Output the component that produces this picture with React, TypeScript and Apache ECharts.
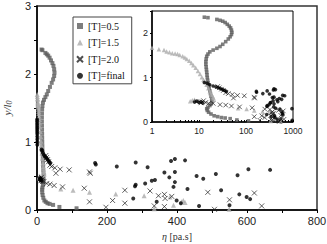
import React, { useEffect, useRef } from "react";
import * as echarts from "echarts";

// ---- data (eta [pa.s], y/l0) ----
const NAMES = ["[T]=0.5", "[T]=1.5", "[T]=2.0", "[T]=final"];

const T05: [number, number][] = [
  [13, 2.36], [15.5, 2.35], [24, 2.31], [28, 2.29], [32, 2.27], [36, 2.24], [40, 2.2], [44, 2.16],
  [47, 2.12], [49, 2.07], [50, 2.02], [49, 1.97], [46, 1.92], [42, 1.87], [37, 1.81], [32, 1.75],
  [28, 1.7], [24, 1.66], [20, 1.62], [17, 1.58], [15.5, 1.53], [14.6, 1.48], [14.2, 1.42], [14, 1.36],
  [14, 1.3], [14.2, 1.24], [14.4, 1.18], [14.6, 1.12], [14.8, 1.06], [15, 1.0], [15.3, 0.94], [15.6, 0.88],
  [16, 0.82], [16.5, 0.76], [17, 0.7], [17.5, 0.64], [18, 0.58], [18.6, 0.52], [18.8, 0.46], [18.2, 0.41],
  [17, 0.37], [15.5, 0.33], [14.6, 0.3], [15, 0.26], [16, 0.22], [18, 0.18], [21, 0.14], [25, 0.12],
  [30, 0.1], [36, 0.09], [46, 0.075], [64, 0.045], [113, 0.025],
];

const T15: [number, number][] = [
  [0.6, 1.7], [1.0, 1.67], [1.4, 1.64], [1.8, 1.62], [2.05, 1.59], [2.35, 1.57], [2.7, 1.55], [3.1, 1.54],
  [3.5, 1.53], [3.9, 1.51], [4.5, 1.48], [5.0, 1.45], [5.5, 1.42], [6.2, 1.38], [6.9, 1.33], [7.6, 1.28],
  [8.5, 1.22], [9.5, 1.15], [10.5, 1.08], [11.5, 1.01], [12.5, 0.95], [13.4, 0.9], [14.5, 0.84], [15.8, 0.76],
  [17, 0.69], [18, 0.64], [19, 0.6], [20, 0.56], [20.5, 0.53],
  [6.5, 0.47], [7.2, 0.49], [8, 0.5],
  [68, 0.31], [103, 0.29], [150, 0.26], [225, 0.235], [306, 0.21], [335, 0.02], [380, 0.19], [390, 0.07],
  [413, 0.12], [418, 0.14], [423, 0.11], [549, 0.01],
];

const T20: [number, number][] = [
  [9, 0.46], [11, 0.43], [12.5, 0.48], [14, 0.44], [16, 0.42], [20, 0.42], [28, 0.39], [37, 0.38],
  [49, 0.36], [73, 0.34], [135, 0.32],
  [25, 0.8], [27, 0.77], [30, 0.74], [33, 0.71], [37, 0.66], [42, 0.64], [51, 0.62], [54, 0.54],
  [66, 0.6], [92, 0.59], [150, 0.56], [152, 0.54],
  [150, 0.12], [197, 0.04], [216, 0.14], [251, 0.29], [251, 0.1], [323, 0.28], [335, 0.06], [347, 0.21],
  [364, 0.23], [366, 0.17], [364, 0.05], [385, 0.2], [488, 0.26], [507, 0.01], [550, 0.15], [621, 0.25],
  [642, 0.06],
];

const TFINAL: [number, number][] = [
  [0.3, 1.33], [0.35, 1.3], [0.4, 1.27], [0.45, 1.24], [0.5, 1.21], [0.55, 1.18], [0.6, 1.15], [0.7, 1.12],
  [0.8, 1.08], [0.9, 1.04], [0.95, 1.0], [0.98, 0.96], [13, 0.89], [15, 0.87], [17, 0.84], [20, 0.81],
  [23, 0.79], [26, 0.77], [29, 0.75], [32, 0.73], [35, 0.71], [38, 0.69],
  [8, 0.45], [9, 0.47], [10, 0.44], [11, 0.46], [12, 0.43],
  [166, 0.69], [168, 0.67], [228, 0.64], [282, 0.7], [316, 0.63], [383, 0.72], [394, 0.75], [423, 0.73],
  [364, 0.55], [394, 0.56], [378, 0.48], [394, 0.41], [390, 0.34], [430, 0.31], [328, 0.43], [337, 0.44],
  [309, 0.39], [282, 0.37], [280, 0.35], [275, 0.17], [342, 0.12], [399, 0.14], [411, 0.1], [456, 0.5],
  [475, 0.46], [511, 0.53], [526, 0.29], [578, 0.23], [573, 0.51], [604, 0.6], [599, 0.19], [609, 0.16],
  [666, 0.59], [463, 0.06], [550, 0.07], [950, 0.3], [960, 0.04],
];

const MAIN_X_TICKS = [0, 200, 400, 600, 800];
const MAIN_Y_TICKS = [0, 1, 2, 3];
const INSET_X_TICKS = [1, 10, 100, 1000];
const INSET_Y_TICKS = [0, 1, 2];
const INSET_X_MINOR = [1, 2, 3, 4, 5, 6, 7, 8, 9, 10, 20, 30, 40, 50, 60, 70, 80, 90, 100, 200, 300, 400, 500, 600, 700, 800, 900, 1000];

const CROSS = "path://M0,0L10,10M10,0L0,10";

const SANS = "Liberation Sans";
const SERIF = "Liberation Serif";

function styleFor(i: number, inset: boolean) {
  const k = inset ? 0.9 : 1;
  if (i === 0) return { symbol: "rect", symbolSize: 4 * k, itemStyle: { color: "#5e5e5e" } };
  if (i === 1) return { symbol: "triangle", symbolSize: 5 * k, itemStyle: { color: "#ababab" } };
  if (i === 2)
    return {
      symbol: CROSS,
      symbolSize: 5 * k,
      itemStyle: { color: "rgba(0,0,0,0)", borderColor: "#222", borderWidth: 0.9 },
    };
  return { symbol: "circle", symbolSize: 4 * k, itemStyle: { color: "#000" } };
}

const DATA = [T05, T15, T20, TFINAL];

export default function App() {
  const ref = useRef<HTMLDivElement>(null);
  useEffect(() => {
    if (!ref.current) return;
    const chart = echarts.init(ref.current, null, { renderer: "svg" });
    const series: any[] = [];
    DATA.forEach((d, i) => {
      series.push({ type: "scatter", name: NAMES[i], xAxisIndex: 0, yAxisIndex: 0, data: d, clip: true, ...styleFor(i, false) });
    });
    DATA.forEach((d, i) => {
      series.push({ type: "scatter", name: NAMES[i], xAxisIndex: 1, yAxisIndex: 1, data: d, clip: true, z: 4, ...styleFor(i, true) });
    });
    const axisLine = { show: true, onZero: false, lineStyle: { color: "#000", width: 1.5 } };
    chart.setOption({
      animation: false,
      backgroundColor: "#fff",
      grid: [
        { left: 37, top: 6, width: 280, height: 204, show: true, borderColor: "#333", borderWidth: 1.5, backgroundColor: "transparent", containLabel: false, outerBoundsMode: "none" },
        { left: 152, top: 11, width: 141, height: 111, show: true, borderColor: "#000", borderWidth: 1, backgroundColor: "#fff", containLabel: false, outerBoundsMode: "none" },
      ],
      legend: {
        orient: "vertical",
        left: 73,
        top: 17,
        padding: [4, 7, 3, 3],
        itemGap: 6.6,
        itemWidth: 6,
        itemHeight: 6,
        borderColor: "#444",
        borderWidth: 1,
        backgroundColor: "#fff",
        textStyle: { fontFamily: SERIF, fontSize: 10, color: "#111" },
        data: [
          { name: NAMES[0], icon: "rect" },
          { name: NAMES[1], icon: "triangle" },
          { name: NAMES[2], icon: CROSS },
          { name: NAMES[3], icon: "circle" },
        ],
      },
      xAxis: [
        {
          type: "value",
          gridIndex: 0,
          min: 0,
          max: 800,
          interval: 100,
          axisLine,
          axisTick: { show: true, length: 3, lineStyle: { color: "#000" } },
          axisLabel: {
            formatter: (v: number) => (MAIN_X_TICKS.includes(v) ? String(v) : ""),
            fontFamily: SANS,
            fontSize: 11,
            color: "#222",
            margin: 5,
          },
          splitLine: { show: false },
          name: "{e|η} [pa.s]",
          nameLocation: "middle",
          nameGap: 21,
          nameTextStyle: {
            fontFamily: SERIF,
            fontSize: 10,
            color: "#333",
            rich: { e: { fontFamily: SERIF, fontStyle: "italic", fontSize: 10, color: "#333" } },
          },
        },
        {
          type: "log",
          logBase: 10,
          gridIndex: 1,
          min: 1,
          max: 1000,
          axisLine,
          axisTick: { show: true, inside: true, length: 2, customValues: INSET_X_MINOR, lineStyle: { color: "#000" } },
          axisLabel: {
            formatter: (v: number) => (INSET_X_TICKS.includes(Math.round(v)) ? String(Math.round(v)) : ""),
            fontFamily: SANS,
            fontSize: 8.5,
            color: "#222",
            margin: 4,
          },
          splitLine: { show: false },
          minorSplitLine: { show: false },
        },
      ],
      yAxis: [
        {
          type: "value",
          gridIndex: 0,
          min: 0,
          max: 3,
          interval: 0.5,
          axisLine,
          axisTick: { show: true, length: 3, lineStyle: { color: "#000" } },
          axisLabel: {
            formatter: (v: number) => (MAIN_Y_TICKS.includes(v) ? String(v) : ""),
            fontFamily: SANS,
            fontSize: 11,
            color: "#222",
            margin: 6,
          },
          splitLine: { show: false },
          name: "{i|y/l}{s|0}",
          nameLocation: "middle",
          nameRotate: 90,
          nameGap: 19,
          nameTextStyle: {
            rich: {
              i: { fontFamily: SERIF, fontStyle: "italic", fontSize: 11, color: "#444" },
              s: { fontFamily: SERIF, fontStyle: "italic", fontSize: 8, color: "#444", verticalAlign: "bottom", padding: [5, 0, 0, 0] },
            },
          },
        },
        {
          type: "value",
          gridIndex: 1,
          min: 0,
          max: 2.5,
          interval: 0.5,
          axisLine,
          axisTick: { show: true, length: 2, lineStyle: { color: "#000" } },
          axisLabel: {
            formatter: (v: number) => (INSET_Y_TICKS.includes(v) ? String(v) : ""),
            fontFamily: SANS,
            fontSize: 9,
            color: "#222",
            margin: 4,
          },
          splitLine: { show: false },
        },
      ],
      series,
    });
    return () => chart.dispose();
  }, []);
  return <div ref={ref} style={{ position: "fixed", left: 0, top: 0, width: 327, height: 244 }} />;
}
